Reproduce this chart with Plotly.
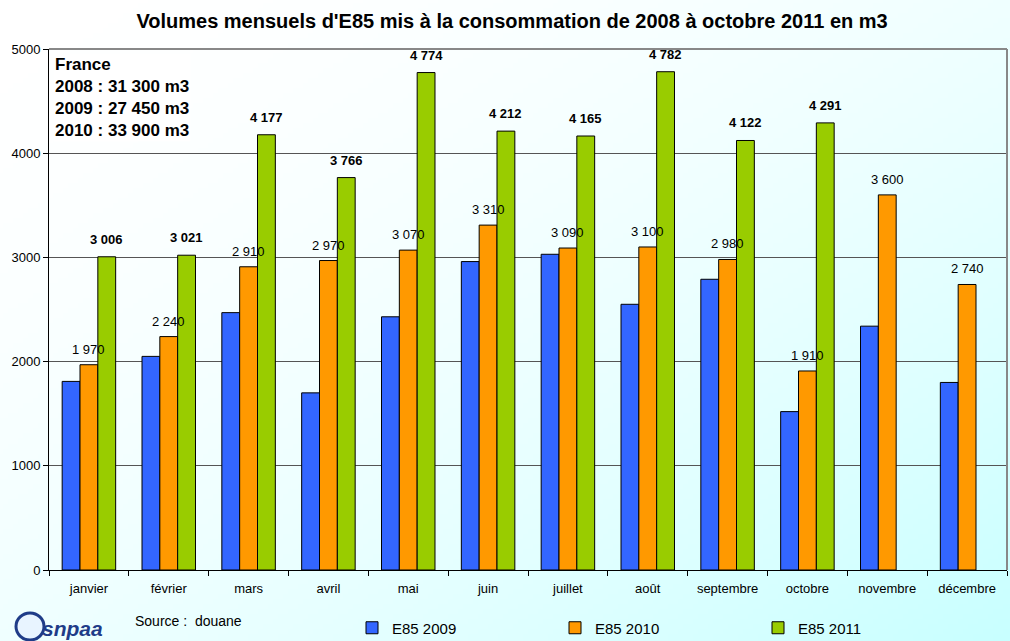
import base64, struct, zlib
import plotly.graph_objects as go

months = ["janvier", "février", "mars", "avril", "mai", "juin", "juillet",
          "août", "septembre", "octobre", "novembre", "décembre"]
e85_2009 = [1810, 2050, 2470, 1700, 2430, 2960, 3030, 2550, 2790, 1520, 2340, 1800]
e85_2010 = [1970, 2240, 2910, 2970, 3070, 3310, 3090, 3100, 2980, 1910, 3600, 2740]
e85_2011 = [3006, 3021, 4177, 3766, 4774, 4212, 4165, 4782, 4122, 4291, None, None]
y_ticks = [0, 1000, 2000, 3000, 4000, 5000]

W, H = 1010, 641
L, R, T, B = 49, 3, 49, 71
PW, PH = W - L - R, H - T - B
BARGAP = 0.33
BAR_W = PW / len(months) * (1 - BARGAP) / 3


def fmt(v):
    return "" if v is None else f"{v:,}".replace(",", " ")


def gradient_png(w, h):
    rows = []
    for j in range(h):
        row = bytearray([0])
        for i in range(w):
            t = ((i / (w - 1) + j / (h - 1)) / 2) ** 1.8
            r = int(round(255 - t * 55))
            row += bytes([r, 255, 255])
        rows.append(bytes(row))
    raw = b"".join(rows)

    def chunk(tag, data):
        c = struct.pack(">I", len(data)) + tag + data
        return c + struct.pack(">I", zlib.crc32(tag + data) & 0xffffffff)

    png = b"\x89PNG\r\n\x1a\n"
    png += chunk(b"IHDR", struct.pack(">IIBBBBB", w, h, 8, 2, 0, 0, 0))
    png += chunk(b"IDAT", zlib.compress(raw, 9))
    png += chunk(b"IEND", b"")
    return "data:image/png;base64," + base64.b64encode(png).decode()


FONT = "Liberation Sans, Arial, sans-serif"
line = dict(color="black", width=1)

fig = go.Figure()
fig.add_bar(name="E85 2009", x=months, y=e85_2009,
            marker=dict(color="#3366FF", line=line))
fig.add_bar(name="E85 2010", x=months, y=e85_2010,
            marker=dict(color="#FF9900", line=line))
fig.add_bar(name="E85 2011", x=months, y=e85_2011,
            marker=dict(color="#99CC00", line=line))

# value labels (drawn on top of all bars)
for m, v in zip(months, e85_2010):
    fig.add_annotation(x=m, y=v, text=fmt(v), showarrow=False, yanchor="bottom",
                       yshift=6, font=dict(size=13, family=FONT, color="black"))
for m, v in zip(months, e85_2011):
    if v is None:
        continue
    fig.add_annotation(x=m, y=v, text="<b>" + fmt(v) + "</b>", showarrow=False,
                       yanchor="bottom", yshift=8, xshift=BAR_W,
                       font=dict(size=13, family=FONT, color="black"))

fig.update_layout(
    width=W, height=H,
    margin=dict(l=L, r=R, t=T, b=B, autoexpand=False),
    paper_bgcolor="rgba(0,0,0,0)",
    plot_bgcolor="rgba(0,0,0,0)",
    font=dict(family=FONT, color="black"),
    barmode="group", bargap=BARGAP, bargroupgap=0,
    title=dict(text="<b>Volumes mensuels d'E85 mis à la consommation de 2008 à octobre 2011 en m3</b>",
               x=0.507, xref="container", xanchor="center",
               y=1 - 21 / H, yref="container", yanchor="middle",
               font=dict(size=20, family=FONT, color="black")),
    xaxis=dict(type="category", showgrid=False, showline=True, linecolor="black",
               linewidth=1, ticks="outside", tickson="boundaries", ticklen=5,
               tickcolor="black", tickfont=dict(size=13), ticklabelstandoff=6,
               automargin=False),
    yaxis=dict(range=[0, 5000], tickvals=y_ticks, showgrid=True, gridcolor="#555555",
               gridwidth=1, showline=True, linecolor="black", linewidth=1,
               ticks="outside", ticklen=5, tickcolor="black", tickfont=dict(size=13),
               zeroline=False, automargin=False),
    legend=dict(orientation="h", x=(352 - L) / PW, xanchor="left",
                y=(570 - 628) / PH, yanchor="middle",
                font=dict(size=15), entrywidth=158, entrywidthmode="pixels",
                bgcolor="rgba(0,0,0,0)", traceorder="normal"),
    showlegend=True,
)

fig.add_layout_image(dict(source=gradient_png(202, 128), xref="paper", yref="paper",
                          x=-L / PW, y=1 + T / PH, sizex=W / PW, sizey=H / PH,
                          xanchor="left", yanchor="top", sizing="stretch",
                          layer="below"))

# frame top/right (grey)
fig.add_shape(type="line", xref="paper", yref="paper", x0=0, x1=1, y0=1, y1=1,
              line=dict(color="#888888", width=2))
fig.add_shape(type="line", xref="paper", yref="paper", x0=1, x1=1, y0=0, y1=1,
              line=dict(color="#888888", width=2))

fig.add_annotation(text="<b>France<br>2008 : 31 300 m3<br>2009 : 27 450 m3<br>2010 : 33 900 m3</b>",
                   xref="paper", yref="paper", x=(53 - L) / PW, y=(570 - 53) / PH,
                   xanchor="left", yanchor="top", align="left", showarrow=False,
                   font=dict(size=17, family=FONT, color="black"),
                   bgcolor="rgba(255,255,255,0.8)")

fig.add_annotation(text="Source :  douane", xref="paper", yref="paper",
                   x=(133 - L) / PW, y=(570 - 621) / PH, xanchor="left", yanchor="middle",
                   showarrow=False, font=dict(size=14, family=FONT, color="black"))

# logo
fig.add_shape(type="circle", xref="paper", yref="paper",
              x0=(16 - L) / PW, x1=(44 - L) / PW, y0=(570 - 613) / PH, y1=(570 - 640) / PH,
              line=dict(color="#1F3C88", width=3), fillcolor="#E8F4FF")
fig.add_annotation(text="<b><i>snpaa</i></b>", xref="paper", yref="paper",
                   x=(72 - L) / PW, y=(570 - 628) / PH, xanchor="center", yanchor="middle",
                   showarrow=False, font=dict(size=21, family=FONT, color="#1F3C88"))

fig.write_html("out.html", config={"displayModeBar": False},
               post_script="document.body.style.margin='0';document.body.style.overflow='hidden';")
